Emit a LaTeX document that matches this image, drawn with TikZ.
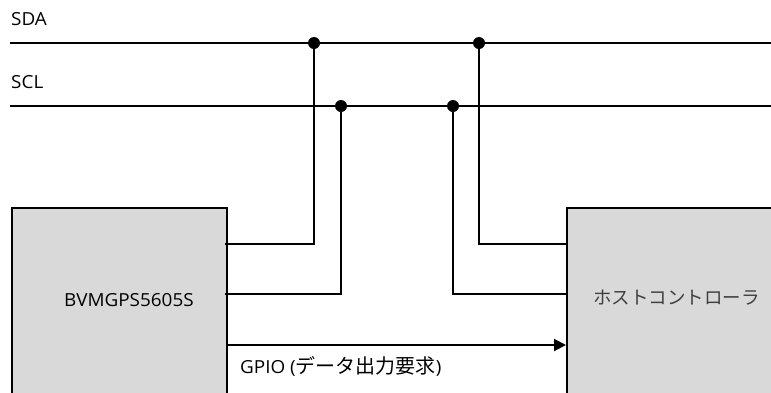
\documentclass[tikz,border=0pt]{standalone}
\usepackage{fontspec}
\setmainfont{Open Sans}[FakeStretch=1.05]
\newfontfamily\cjk{Noto Sans CJK JP}
\usetikzlibrary{arrows.meta}
\definecolor{boxgray}{HTML}{D9D9D9}
\definecolor{hosttext}{HTML}{404040}
\tikzset{
  wire/.style={line width=2pt, line cap=rect, line join=miter},
  chip/.style={draw, line width=2pt, fill=boxgray, rectangle, inner sep=0pt, anchor=north west},
  junction/.style={circle, fill=black, inner sep=0pt, minimum size=12pt},
  lbl/.style={font=\fontsize{18pt}{21pt}\selectfont, inner sep=0pt, anchor=west},
}
\begin{document}
\begin{tikzpicture}[x=1pt, y=-1pt]
\useasboundingbox (0,0) rectangle (771,392);
\clip (0,0) rectangle (771,392);
% bus labels
\node[lbl] (sdalabel) at (11,19) {SDA};
\node[lbl] (scllabel) at (11,82) {SCL};
% bus ends
\coordinate (sdaL) at (11,43);
\coordinate (sdaR) at (780,43);
\coordinate (sclL) at (11,106);
\coordinate (sclR) at (780,106);
\draw[wire] (sdaL) -- (sdaR);
\draw[wire] (sclL) -- (sclR);
% chips
\node[chip, minimum width=215pt, minimum height=240pt] (dev) at (11,207) {};
\node[chip, minimum width=240pt, minimum height=240pt] (host) at (566,207) {};
\node[lbl] (devlabel) at (64,300) {BVMGPS5605S};
\node[lbl, text=hosttext, font=\cjk\fontsize{18.5pt}{20pt}\selectfont] (hostlabel) at (593,298) {ホストコントローラ};
% junctions
\node[junction] (j1) at (314,43) {};
\node[junction] (j2) at (341,106) {};
\node[junction] (j3) at (453,106) {};
\node[junction] (j4) at (479,43) {};
% pin points on the chip edges
\coordinate (devsda) at (226,244);
\coordinate (devscl) at (226,294);
\coordinate (devgpio) at (226,345);
\coordinate (hostsda) at (566,244);
\coordinate (hostscl) at (566,294);
\coordinate (hostgpio) at (566,345);
\draw[wire] (devsda) -| (j1.center);
\draw[wire] (devscl) -| (j2.center);
\draw[wire] (hostsda) -| (j4.center);
\draw[wire] (hostscl) -| (j3.center);
\draw[line width=2pt, -{Triangle[length=12pt, width=12pt]}] (devgpio) -- (hostgpio);
\node[lbl] (gpiolabel) at (240,366) {GPIO ({\cjk\fontsize{20pt}{22pt}\selectfont データ出力要求})};
\end{tikzpicture}
\end{document}
